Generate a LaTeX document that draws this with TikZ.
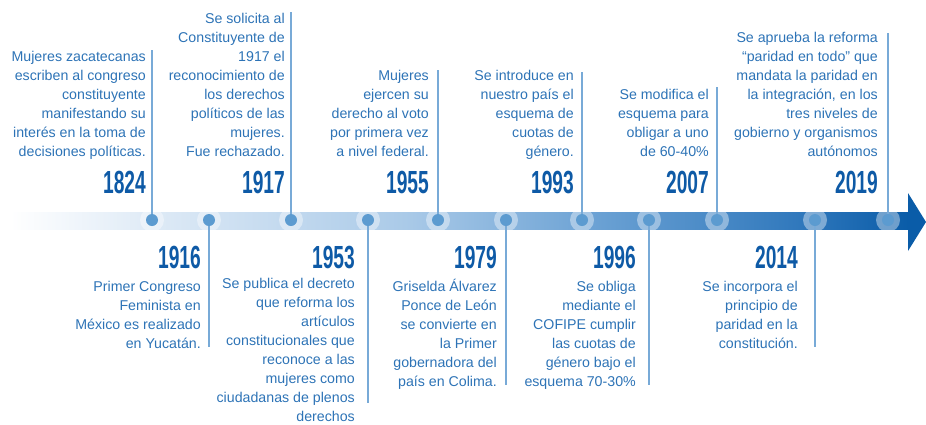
\documentclass[tikz,border=0pt]{standalone}
\usepackage{fontspec}
\setmainfont{Liberation Sans}
\usetikzlibrary{positioning}
\definecolor{txtblue}{RGB}{45,115,182}
\definecolor{yearblue}{RGB}{14,90,166}
\definecolor{lineblue}{RGB}{120,170,215}
\definecolor{dotblue}{RGB}{92,155,208}
\definecolor{barA}{RGB}{222,234,246}
\definecolor{barB}{RGB}{170,202,232}
\definecolor{barC}{RGB}{105,160,211}
\definecolor{barD}{RGB}{48,120,188}
\definecolor{barE}{RGB}{10,92,168}
\pgfdeclarehorizontalshading{barshade}{100bp}{color(0bp)=(white); color(25bp)=(white); color(33bp)=(barA); color(47bp)=(barB); color(58bp)=(barC); color(69bp)=(barD); color(75bp)=(barE); color(100bp)=(barE)}
\newcommand{\yr}[1]{\scalebox{0.6}[1]{\fontsize{32}{32}\selectfont\bfseries #1}}
\tikzset{
	txt/.style={align=right, text=txtblue, inner sep=0pt, anchor=base east, font=\fontsize{14.2}{19}\selectfont},
	year/.style={text=yearblue, inner sep=0pt, anchor=base east},
	halo/.style={circle, fill=white, fill opacity=0.4, minimum size=24pt, inner sep=0pt},
	dot/.style={circle, fill=dotblue, minimum size=12pt, inner sep=0pt},
	stem/.style={lineblue, line width=1.5pt},
}

\begin{document}
\begin{tikzpicture}[x=1pt, y=-1pt]
	\useasboundingbox (0,0) rectangle (926,424);
	
	\shade[shading=barshade] (10,212) rectangle (908,229);
	\fill[barE] (908,193) -- (926,222) -- (908,251) -- cycle;
	
	\node[halo] (h1824) at (152,220) {};
	\node[halo] (h1916) at (209,220) {};
	\node[halo] (h1917) at (291,220) {};
	\node[halo] (h1953) at (368,220) {};
	\node[halo] (h1955) at (438,220) {};
	\node[halo] (h1979) at (506,220) {};
	\node[halo] (h1993) at (582,220) {};
	\node[halo] (h1996) at (649,220) {};
	\node[halo] (h2007) at (717,220) {};
	\node[halo] (h2014) at (815,220) {};
	\node[halo] (h2019) at (888,220) {};
	
	\coordinate (t1824) at (152,50);
	\coordinate (t1916) at (209,347);
	\coordinate (t1917) at (291,12);
	\coordinate (t1953) at (368,403);
	\coordinate (t1955) at (438,70);
	\coordinate (t1979) at (506,385);
	\coordinate (t1993) at (582,72);
	\coordinate (t1996) at (649,385);
	\coordinate (t2007) at (717,87);
	\coordinate (t2014) at (815,347);
	\coordinate (t2019) at (888,33);
	
	\draw[stem] (h1824.center) -- (t1824);
	\draw[stem] (h1916.center) -- (t1916);
	\draw[stem] (h1917.center) -- (t1917);
	\draw[stem] (h1953.center) -- (t1953);
	\draw[stem] (h1955.center) -- (t1955);
	\draw[stem] (h1979.center) -- (t1979);
	\draw[stem] (h1993.center) -- (t1993);
	\draw[stem] (h1996.center) -- (t1996);
	\draw[stem] (h2007.center) -- (t2007);
	\draw[stem] (h2014.center) -- (t2014);
	\draw[stem] (h2019.center) -- (t2019);
	
	\node[dot] (d1824) at (h1824) {};
	\node[dot] (d1916) at (h1916) {};
	\node[dot] (d1917) at (h1917) {};
	\node[dot] (d1953) at (h1953) {};
	\node[dot] (d1955) at (h1955) {};
	\node[dot] (d1979) at (h1979) {};
	\node[dot] (d1993) at (h1993) {};
	\node[dot] (d1996) at (h1996) {};
	\node[dot] (d2007) at (h2007) {};
	\node[dot] (d2014) at (h2014) {};
	\node[dot] (d2019) at (h2019) {};
	
	\node[year] (y1824) at (146,193) {\yr{1824}};
	\node[year] (y1917) at (285,193) {\yr{1917}};
	\node[year] (y1955) at (429,193) {\yr{1955}};
	\node[year] (y1993) at (574,193) {\yr{1993}};
	\node[year] (y2007) at (709,193) {\yr{2007}};
	\node[year] (y2019) at (878,193) {\yr{2019}};
	\node[year] (y1916) at (201,268) {\yr{1916}};
	\node[year] (y1953) at (355,268) {\yr{1953}};
	\node[year] (y1979) at (497,268) {\yr{1979}};
	\node[year] (y1996) at (636,268) {\yr{1996}};
	\node[year] (y2014) at (798,268) {\yr{2014}};
	
	\node[txt] (e1824) at (146,156) {Mujeres zacatecanas\\escriben al congreso\\constituyente\\manifestando su\\interés en la toma de\\decisiones políticas.};
	\node[txt] (e1917) at (285,156) {Se solicita al\\Constituyente de\\1917 el\\reconocimiento de\\los derechos\\políticos de las\\mujeres.\\Fue rechazado.};
	\node[txt] (e1955) at (429,156) {Mujeres\\ejercen su\\derecho al voto\\por primera vez\\a nivel federal.};
	\node[txt] (e1993) at (574,156) {Se introduce en\\nuestro país el\\esquema de\\cuotas de\\género.};
	\node[txt] (e2007) at (709,156) {Se modifica el\\esquema para\\obligar a uno\\de 60-40\%};
	\node[txt] (e2019) at (878,156) {Se aprueba la reforma\\“paridad en todo” que\\mandata la paridad en\\la integración, en los\\tres niveles de\\gobierno y organismos\\autónomos};
	\node[txt] (e1916) at (201,348) {Primer Congreso\\Feminista en\\México es realizado\\en Yucatán.};
	\node[txt] (e1953) at (355,421) {Se publica el decreto\\que reforma los\\artículos\\constitucionales que\\reconoce a las\\mujeres como\\ciudadanas de plenos\\derechos};
	\node[txt] (e1979) at (497,386) {Griselda Álvarez\\Ponce de León\\se convierte en\\la Primer\\gobernadora del\\país en Colima.};
	\node[txt] (e1996) at (636,386) {Se obliga\\mediante el\\COFIPE cumplir\\las cuotas de\\género bajo el\\esquema 70-30\%};
	\node[txt] (e2014) at (798,348) {Se incorpora el\\principio de\\paridad en la\\constitución.};
\end{tikzpicture}
\end{document}
